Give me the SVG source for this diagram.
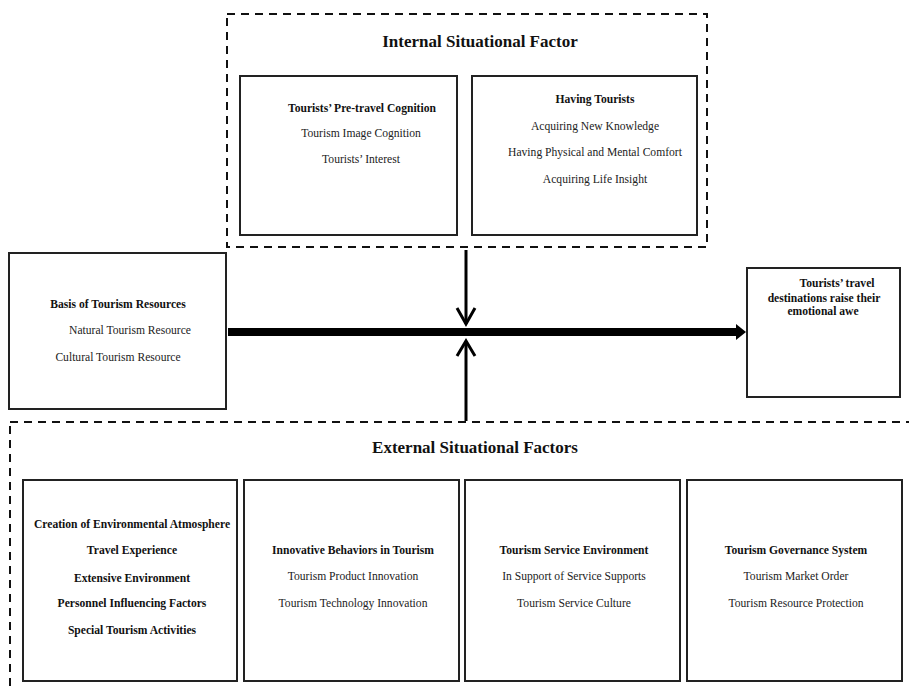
<svg xmlns="http://www.w3.org/2000/svg" width="909" height="692" viewBox="0 0 909 692">
<style>
.box{fill:#fff;stroke:#222;stroke-width:2}
.dash{fill:none;stroke:#111;stroke-width:2;stroke-dasharray:8 6}
text{font-family:"Liberation Serif","Times New Roman",serif;font-size:11.6px;fill:#222;text-anchor:middle}
.b{font-weight:bold;fill:#111}
.t{font-weight:bold;font-size:17px;fill:#111}
.ln{stroke:#000;fill:none}
</style>
<rect width="909" height="692" fill="#fff"/>
<g id="internal">
<rect class="dash" x="227" y="14" width="480" height="233"/>
<text class="t" x="480" y="47">Internal Situational Factor</text>
</g>
<g id="pretravel">
<rect class="box" x="240" y="76" width="217" height="159"/>
<text class="b" x="362" y="112">Tourists’ Pre-travel Cognition</text>
<text x="361" y="137">Tourism Image Cognition</text>
<text x="361" y="163">Tourists’ Interest</text>
</g>
<g id="having">
<rect class="box" x="472" y="76" width="225" height="159"/>
<text class="b" x="595" y="103">Having Tourists</text>
<text x="595" y="130">Acquiring New Knowledge</text>
<text x="595" y="156">Having Physical and Mental Comfort</text>
<text x="595" y="183">Acquiring Life Insight</text>
</g>
<g id="basis">
<rect class="box" x="9" y="253" width="217" height="156"/>
<text class="b" x="118" y="308">Basis of Tourism Resources</text>
<text x="130" y="334">Natural Tourism Resource</text>
<text x="118" y="361">Cultural Tourism Resource</text>
</g>
<g id="awe">
<rect class="box" x="747" y="268" width="153" height="129"/>
<text class="b" x="837" y="287">Tourists’ travel</text>
<text class="b" x="824" y="302">destinations raise their</text>
<text class="b" x="823" y="315">emotional awe</text>
</g>
<g id="external">
<rect class="dash" x="10" y="422" width="920" height="290"/>
<text class="t" x="475" y="453">External Situational Factors</text>
</g>
<g id="atmosphere">
<rect class="box" x="23" y="480" width="214" height="201"/>
<text class="b" x="132" y="528">Creation of Environmental Atmosphere</text>
<text class="b" x="132" y="554">Travel Experience</text>
<text class="b" x="132" y="582">Extensive Environment</text>
<text class="b" x="132" y="607">Personnel Influencing Factors</text>
<text class="b" x="132" y="634">Special Tourism Activities</text>
</g>
<g id="innovative">
<rect class="box" x="244" y="480" width="215" height="201"/>
<text class="b" x="353" y="554">Innovative Behaviors in Tourism</text>
<text x="353" y="580">Tourism Product Innovation</text>
<text x="353" y="607">Tourism Technology Innovation</text>
</g>
<g id="service">
<rect class="box" x="465" y="480" width="215" height="201"/>
<text class="b" x="574" y="554">Tourism Service Environment</text>
<text x="574" y="580">In Support of Service Supports</text>
<text x="574" y="607">Tourism Service Culture</text>
</g>
<g id="governance">
<rect class="box" x="687" y="480" width="215" height="201"/>
<text class="b" x="796" y="554">Tourism Governance System</text>
<text x="796" y="580">Tourism Market Order</text>
<text x="796" y="607">Tourism Resource Protection</text>
</g>
<g id="connectors">
<line class="ln" x1="228" y1="332" x2="738" y2="332" stroke-width="8"/>
<polygon points="736,324 746,332 736,340" fill="#000"/>
<line class="ln" x1="466" y1="250" x2="466" y2="324" stroke-width="3"/>
<polyline class="ln" points="457,308 466,324 475,308" stroke-width="3"/>
<line class="ln" x1="466" y1="341" x2="466" y2="421" stroke-width="3"/>
<polyline class="ln" points="457,356 466,341 475,356" stroke-width="3"/>
</g>
</svg>
